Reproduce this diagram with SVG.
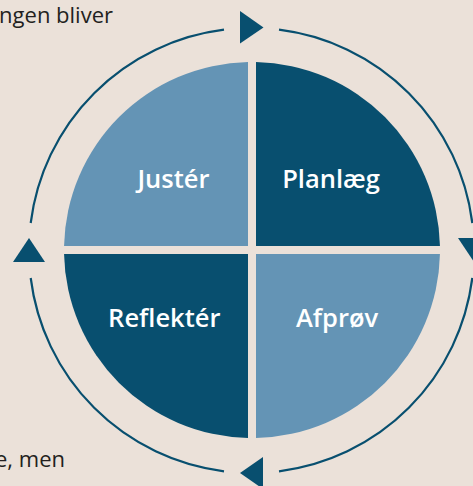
<svg xmlns="http://www.w3.org/2000/svg" width="473" height="486" viewBox="0 0 473 486">
<style>
.bg{fill:#ebe1d9}
.light{fill:#6494b5}
.dark{fill:#084f6f}
.lbl{font-family:"Open Sans","Liberation Sans",sans-serif;font-weight:600;font-size:25.5px;fill:#ffffff;text-anchor:middle}
.body{font-family:"Open Sans","Liberation Sans",sans-serif;font-size:22px;fill:#231f20;text-anchor:end}
.arc{fill:none;stroke:#084f6f;stroke-width:2.2}
.arrow{fill:#084f6f}
</style>
<rect class="bg" x="0" y="0" width="473" height="486"/>
<text class="body" x="113" y="23.3">ngen bliver</text>
<text class="body" x="65" y="467.3">e, men</text>
<g id="connectors">
<path class="arc" d="M279,29.7 A222.5,222.5 0 0 1 472.3,223"/>
<path class="arc" d="M472.3,278 A222.5,222.5 0 0 1 279,471.3"/>
<path class="arc" d="M224,471.3 A222.5,222.5 0 0 1 30.7,278"/>
<path class="arc" d="M30.7,223 A222.5,222.5 0 0 1 224,29.7"/>
<polygon class="arrow" points="240,11 240,43.5 263.5,27.5"/>
<polygon class="arrow" points="458,238 490,238 474,262"/>
<polygon class="arrow" points="263,457 263,489 240,473"/>
<polygon class="arrow" points="13,262 45,262 29,238"/>
</g>
<g id="juster">
<path class="light" d="M248,246 V62.04 A188,188 0 0 0 64.04,246 Z"/>
<text class="lbl" x="173.4" y="188.3">Justér</text>
</g>
<g id="planlaeg">
<path class="dark" d="M256,246 H439.96 A188,188 0 0 0 256,62.04 Z"/>
<text class="lbl" x="331" y="188.3">Planlæg</text>
</g>
<g id="reflekter">
<path class="dark" d="M248,254 H64.04 A188,188 0 0 0 248,437.96 Z"/>
<text class="lbl" x="164.3" y="326.7">Reflektér</text>
</g>
<g id="afproev">
<path class="light" d="M256,254 V437.96 A188,188 0 0 0 439.96,254 Z"/>
<text class="lbl" x="337" y="326.7">Afprøv</text>
</g>
</svg>
